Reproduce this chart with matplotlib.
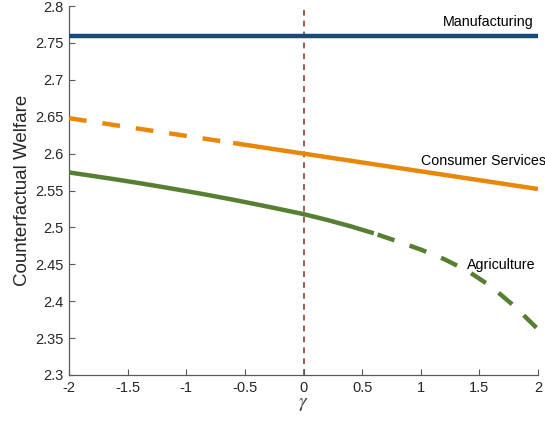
import matplotlib
matplotlib.use("Agg")
import matplotlib.pyplot as plt
import numpy as np

plt.rcParams['font.family'] = ['Liberation Sans', 'DejaVu Sans']
plt.rcParams['mathtext.fontset'] = 'stix'

# Elasticity parameter gamma on the horizontal axis
gamma = [-2.0, -1.8, -1.6, -1.4, -1.2, -1.0, -0.8, -0.6, -0.4, -0.2, 0.0,
         0.2, 0.4, 0.6, 0.8, 1.0, 1.2, 1.4, 1.6, 1.8, 2.0]

# Counterfactual welfare by sector
manufacturing = [2.76] * 21
consumer_services = [2.6480, 2.6432, 2.6384, 2.6336, 2.6288, 2.6240, 2.6192,
                     2.6144, 2.6096, 2.6048, 2.6000, 2.5952, 2.5904, 2.5856,
                     2.5808, 2.5760, 2.5712, 2.5664, 2.5616, 2.5568, 2.5520]
agriculture = [2.5745, 2.5698, 2.5650, 2.5600, 2.5547, 2.5492, 2.5435,
               2.5375, 2.5312, 2.5247, 2.5180, 2.5102, 2.5016, 2.4920,
               2.4812, 2.4700, 2.4570, 2.4410, 2.4200, 2.3930, 2.3620]

# Ranges drawn dashed (outside the estimated range)
services_dash_below = -0.6
agriculture_dash_above = 0.6

blue = '#1C4A78'
orange = '#E8870A'
green = '#567F31'
ref_color = '#A45A4A'

fig = plt.figure(figsize=(5.45, 4.30), dpi=100)
ax = fig.add_axes([69 / 545, 1 - 375 / 430, (538 - 69) / 545, (375 - 6) / 430])

g = np.array(gamma)
cs = np.array(consumer_services)
ag = np.array(agriculture)

lw = 3.2
dash = (4.0, 3.6)

ax.axvline(0, color=ref_color, lw=1.4, ls=(0, (3.0, 2.6)), zorder=1)

ax.plot(g, manufacturing, color=blue, lw=lw, solid_capstyle='butt', zorder=3)

m = g <= services_dash_below
ax.plot(g[m], cs[m], color=orange, lw=lw, ls=(0, dash), dash_capstyle='butt', zorder=3)
m = g >= services_dash_below
ax.plot(g[m], cs[m], color=orange, lw=lw, solid_capstyle='butt', zorder=3)

m = g <= agriculture_dash_above
ax.plot(g[m], ag[m], color=green, lw=lw, solid_capstyle='butt', zorder=3)
m = g >= agriculture_dash_above
ax.plot(g[m], ag[m], color=green, lw=lw, ls=(6.7, dash), dash_capstyle='butt', zorder=3)

ax.text(1.19, 2.778, 'Manufacturing', fontsize=10.3, ha='left', va='center', color='black')
ax.text(1.0, 2.590, 'Consumer Services', fontsize=10.3, ha='left', va='center', color='black')
ax.text(1.394, 2.449, 'Agriculture', fontsize=10.3, ha='left', va='center', color='black')

ax.set_xlim(-2, 2)
ax.set_ylim(2.3, 2.8)
ax.set_xticks(np.arange(-2, 2.01, 0.5))
ax.set_xticklabels(['-2', '-1.5', '-1', '-0.5', '0', '0.5', '1', '1.5', '2'])
ax.set_yticks(np.arange(2.3, 2.801, 0.05))
ax.set_yticklabels(['2.3', '2.35', '2.4', '2.45', '2.5', '2.55', '2.6', '2.65', '2.7', '2.75', '2.8'])

for s in ['top', 'right']:
    ax.spines[s].set_visible(False)
for s in ['left', 'bottom']:
    ax.spines[s].set_color('#5a5a5a')
    ax.spines[s].set_linewidth(0.9)

ax.tick_params(direction='in', length=4, width=0.8, color='#5a5a5a',
               labelsize=10.5, labelcolor='#262626', pad=4)
ax.patch.set_alpha(0)

ax.set_xlabel(r'$\gamma$', fontsize=14, color='#404040')
ax.xaxis.set_label_coords(0.5, -0.058)
ax.xaxis.label.set_verticalalignment('top')

ax.set_ylabel('Counterfactual Welfare', fontsize=13.5, color='#262626')
ax.yaxis.set_label_coords(-0.1, 0.5)
ax.yaxis.label.set_verticalalignment('center')

fig.savefig('out.png', dpi=100)
